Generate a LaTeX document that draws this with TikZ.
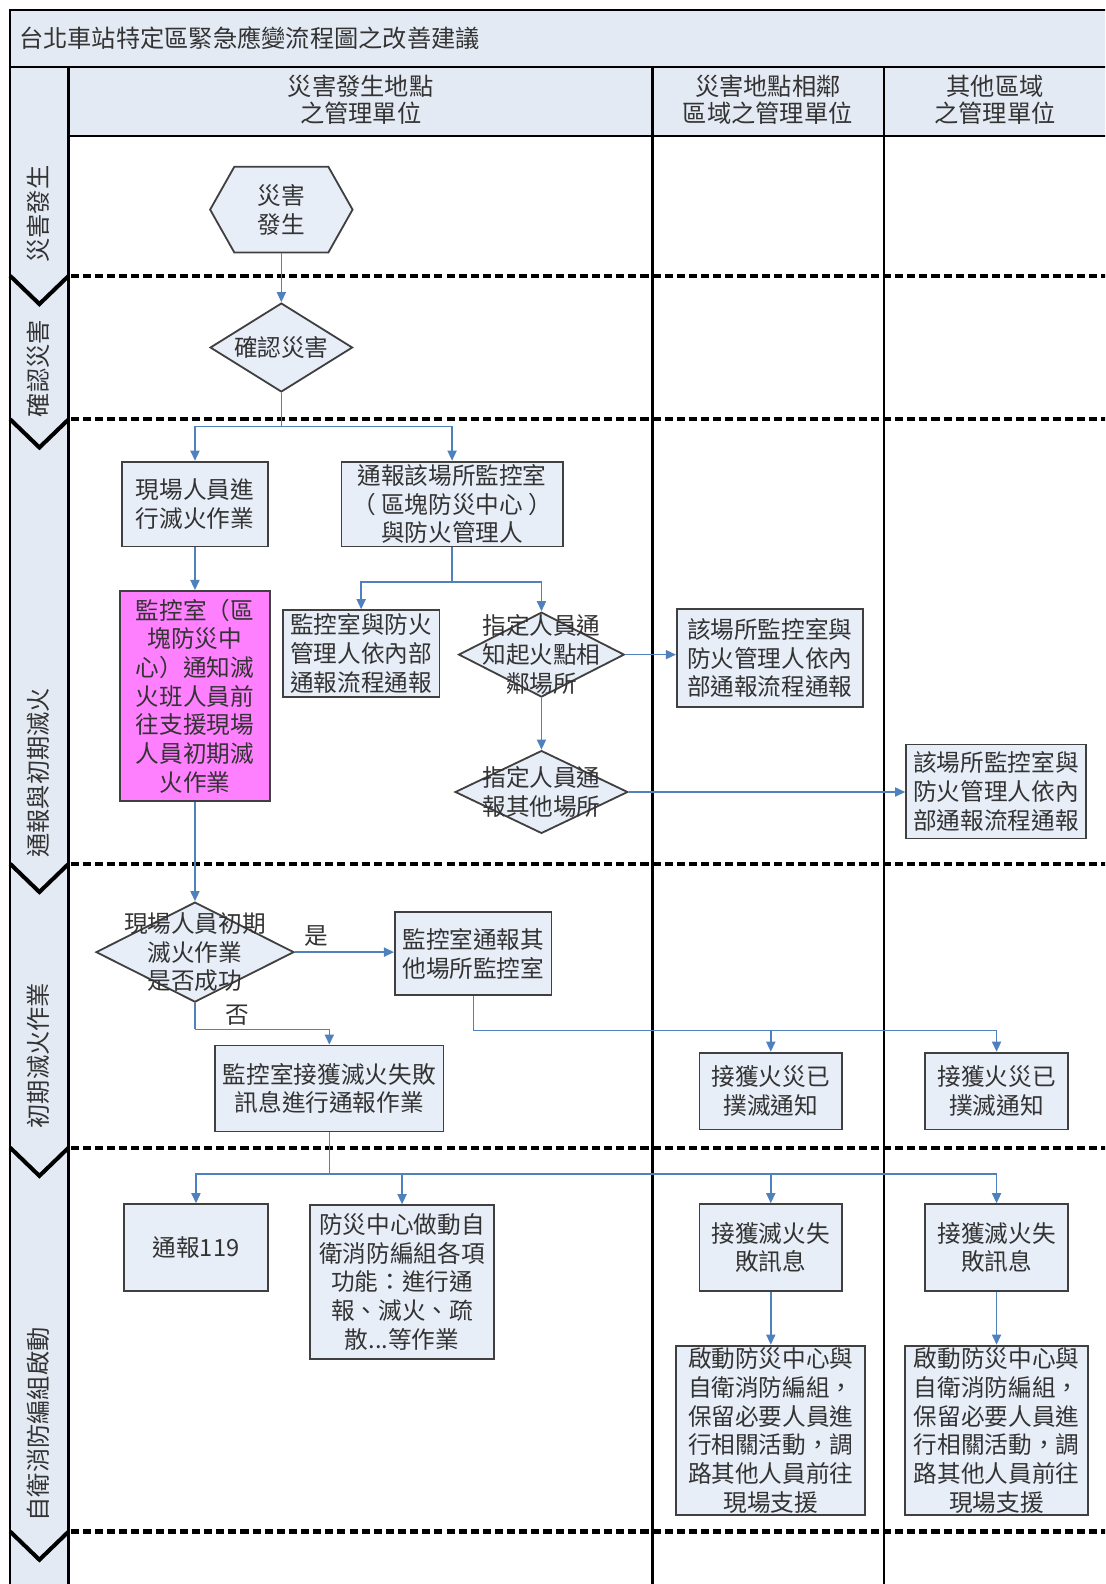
\documentclass[tikz,border=0pt]{standalone}
\usepackage{fontspec}
\setmainfont{Noto Sans CJK TC}
\usetikzlibrary{arrows.meta,shapes.geometric,calc}
\definecolor{bandfill}{HTML}{E4EAF4}
\definecolor{boxfill}{HTML}{E8EEF8}
\definecolor{pinkfill}{HTML}{FF80FF}
\definecolor{arrowblue}{HTML}{4F81BD}
\definecolor{boxline}{HTML}{404040}
\begin{document}
\begin{tikzpicture}[x=0.5pt,y=-0.5pt,
  txt/.style={font=\fontsize{11.7}{14.2}\selectfont, align=center, text=black!80},
  bigtxt/.style={font=\fontsize{12}{13.5}\selectfont, align=center, text=black!80},
  box/.style={txt, draw=boxline, line width=0.9pt, fill=boxfill, inner sep=0pt},
  dia/.style={draw=boxline, line width=0.9pt, fill=boxfill, diamond, inner sep=0pt},
  flow/.style={draw=arrowblue, line width=0.75pt, -{Triangle[length=5pt,width=4.5pt]}},
  flowline/.style={draw=arrowblue, line width=0.75pt},
  frameline/.style={draw=black, line width=1.1pt},
  phasedash/.style={draw=black, line width=2pt, dash pattern=on 4pt off 2pt},
  chev/.style={draw=black, line width=2pt},
  phase/.style={bigtxt, rotate=90},
]
\useasboundingbox (0,0) rectangle (1094,1568);
\begin{scope}
\clip (0,0) rectangle (1094,1568);
% bands
\fill[bandfill] (10,10) rectangle (1100,66);
\fill[bandfill] (68,66) rectangle (1100,135);
\fill[bandfill] (10,66) rectangle (68,1580);
% structure lines
\draw[frameline] (1100,10) -- (10,10) -- (10,1580);
\draw[frameline] (10,66) -- (1100,66);
\draw[frameline] (68,135) -- (1100,135);
\draw[frameline, line width=1.4pt] (68,66) -- (68,1580);
\draw[frameline] (646,66) -- (646,1580);
\draw[frameline] (875,66) -- (875,1580);
% phase separators
\foreach \yy in {273,415,855,1136,1516}{
  \draw[phasedash] (70,\yy) -- (1100,\yy);
  \draw[chev] (10,\yy) -- (39,\yy+28) -- (68,\yy);
}
\end{scope}
% title and headers
\node[bigtxt, anchor=west] (title) at (12,38) {台北車站特定區緊急應變流程圖之改善建議};
\node[bigtxt] (h1) at (357,99) {災害發生地點\\之管理單位};
\node[bigtxt] (h2) at (760,99) {災害地點相鄰\\區域之管理單位};
\node[bigtxt] (h3) at (985,99) {其他區域\\之管理單位};
% phase labels
\node[phase] (p1) at (38,212) {災害發生};
\node[phase] (p2) at (38,365) {確認災害};
\node[phase] (p3) at (38,765) {通報與初期滅火};
\node[phase] (p4) at (38,1045) {初期滅火作業};
\node[phase] (p5) at (38,1410) {自衛消防編組啟動};
% hexagon
\fill[boxfill] (208,207.5) -- (232,165) -- (325,165) -- (349,207.5) -- (325,250) -- (232,250) -- cycle;
\draw[boxline, line width=0.9pt] (208,207.5) -- (232,165) -- (325,165) -- (349,207.5) -- (325,250) -- (232,250) -- cycle;
\node[txt, minimum width=70.5pt, minimum height=42.5pt, inner sep=0pt] (hex) at (278.5,207.5) {災害\\發生};
% diamonds
\node[dia, minimum width=70.5pt, minimum height=44pt] (conf) at (278.5,344) {};
\node[txt] (conft) at (conf) {確認災害};
\node[dia, minimum width=82pt, minimum height=42pt] (D) at (536,648) {};
\node[txt] (Dt) at (D) {指定人員通\\知起火點相\\鄰場所};
\node[dia, minimum width=85.5pt, minimum height=41pt] (F) at (536,784) {};
\node[txt] (Ft) at (F) {指定人員通\\報其他場所};
\node[dia, minimum width=98pt, minimum height=49.5pt] (H) at (193,942.5) {};
\node[txt] (Ht) at (H) {現場人員初期\\滅火作業\\是否成功};
% boxes
\node[box, minimum width=72.5pt, minimum height=42pt] (A) at (193,499) {現場人員進\\行滅火作業};
\node[box, minimum width=109.5pt, minimum height=42pt] (B) at (447.5,499) {通報該場所監控室\\（ 區塊防災中心 ）\\與防火管理人};
\node[box, minimum width=74.5pt, minimum height=104pt, fill=pinkfill] (pink) at (193,689) {監控室（區\\塊防災中\\心）通知滅\\火班人員前\\往支援現場\\人員初期滅\\火作業};
\node[box, minimum width=77.5pt, minimum height=43pt] (C) at (357.5,647) {監控室與防火\\管理人依內部\\通報流程通報};
\node[box, minimum width=92pt, minimum height=48.5pt] (E) at (762,651.5) {該場所監控室與\\防火管理人依內\\部通報流程通報};
\node[box, minimum width=89pt, minimum height=46.5pt] (G) at (986,783.5) {該場所監控室與\\防火管理人依內\\部通報流程通報};
\node[box, minimum width=77.5pt, minimum height=41pt] (I) at (468.5,944) {監控室通報其\\他場所監控室};
\node[box, minimum width=113pt, minimum height=42.5pt] (J) at (326,1077.5) {監控室接獲滅火失敗\\訊息進行通報作業};
\node[box, minimum width=70.5pt, minimum height=38pt] (K) at (763,1080) {接獲火災已\\撲滅通知};
\node[box, minimum width=70.5pt, minimum height=38pt] (L) at (986.5,1080) {接獲火災已\\撲滅通知};
\node[box, minimum width=71pt, minimum height=43pt] (M) at (194,1235) {通報119};
\node[box, minimum width=91pt, minimum height=76pt] (N) at (398,1269) {防災中心做動自\\衛消防編組各項\\功能：進行通\\報、滅火、疏\\散...等作業};
\node[box, minimum width=70.5pt, minimum height=43pt] (O) at (763,1235) {接獲滅火失\\敗訊息};
\node[box, minimum width=70.5pt, minimum height=43pt] (P) at (986.5,1235) {接獲滅火失\\敗訊息};
\node[box, minimum width=93.5pt, minimum height=84pt] (Q) at (763,1416) {啟動防災中心與\\自衛消防編組，\\保留必要人員進\\行相關活動，調\\路其他人員前往\\現場支援};
\node[box, minimum width=90.5pt, minimum height=84pt] (R) at (986.5,1416) {啟動防災中心與\\自衛消防編組，\\保留必要人員進\\行相關活動，調\\路其他人員前往\\現場支援};
% connectors
\draw[flow] (hex.south) -- (conf.north);
\coordinate (s1) at (278.5,422);
\draw[flowline] (conf.south) -- (s1);
\draw[flow] (s1) -| (A.north);
\draw[flow] (s1) -| (B.north);
\coordinate (s2) at (447.5,576);
\draw[flowline] (B.south) -- (s2);
\draw[flow] (s2) -| (C.north);
\draw[flow] (s2) -| (D.north);
\draw[flow] (A.south) -- (pink.north);
\draw[flow] (D.east) -- (D.east -| E.west);
\draw[flow] (D.south) -- (F.north);
\draw[flow] (F.east) -- (F.east -| G.west);
\draw[flow] (pink.south) -- (H.north);
\draw[flow] (H.east) -- (H.east -| I.west);
\node[txt] (yes) at (313,927) {是};
\coordinate (s3) at (193,1019);
\draw[flowline] (H.south) -- (s3);
\draw[flow] (s3) -| (J.north);
\node[txt] (no) at (235,1005) {否};
\coordinate (s4) at (468.5,1020);
\draw[flowline] (I.south) -- (s4);
\draw[flow] (s4) -| (K.north);
\draw[flow] (s4) -| (L.north);
\coordinate (s5) at (326,1162);
\draw[flowline] (J.south) -- (s5);
\draw[flow] (s5) -| (M.north);
\draw[flow] (s5) -| (N.north);
\draw[flow] (s5) -| (O.north);
\draw[flow] (s5) -| (P.north);
\draw[flow] (O.south) -- (Q.north);
\draw[flow] (P.south) -- (R.north);
\end{tikzpicture}
\end{document}
